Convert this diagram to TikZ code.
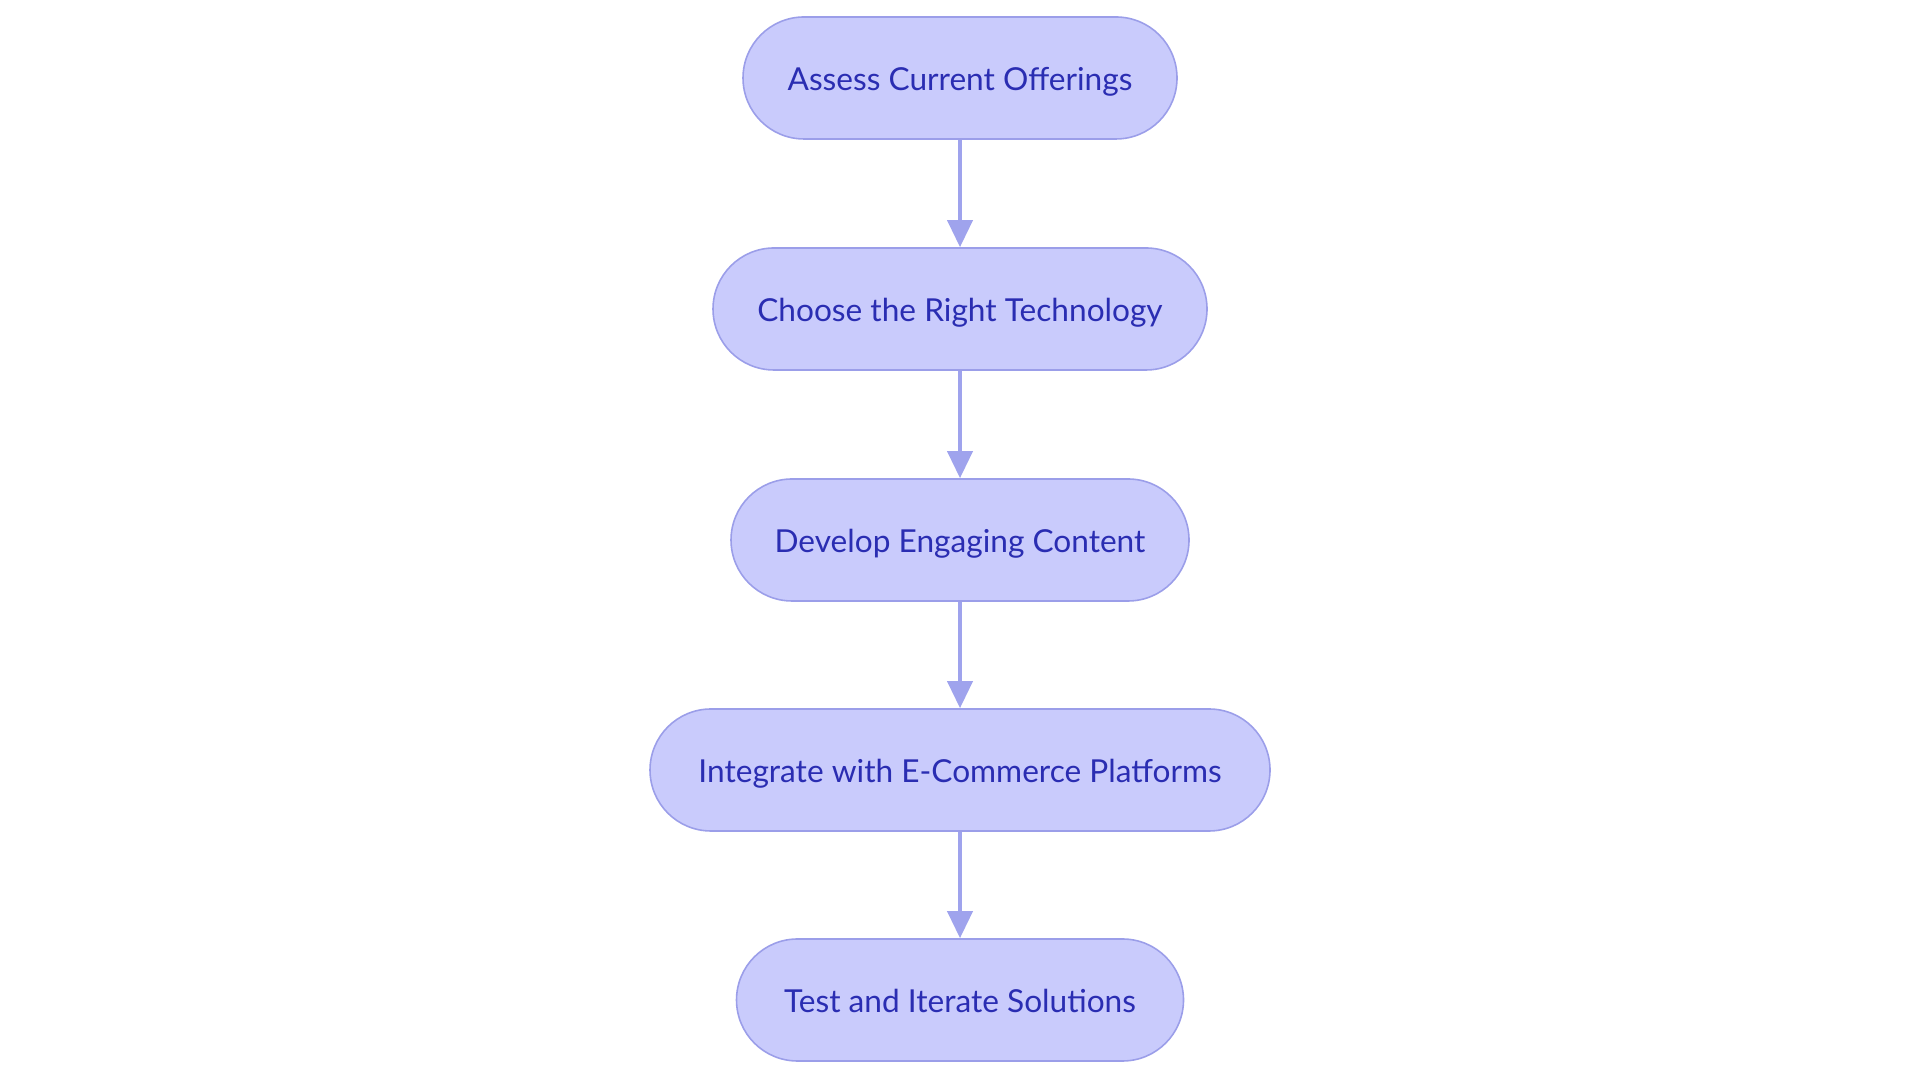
\documentclass[tikz,border=0pt]{standalone}
\usepackage{fontspec}
\setmainfont{Lato}
\usetikzlibrary{arrows.meta}
\definecolor{boxfill}{HTML}{C9CBFC}
\definecolor{boxdraw}{HTML}{9B9EE9}
\definecolor{boxtext}{HTML}{2A2DB2}
\definecolor{arrowcol}{HTML}{9FA3ED}
\tikzset{
  stepbox/.style={draw=boxdraw, fill=boxfill, line width=0.45pt, rounded corners=0.61cm,
    minimum height=1.22cm, inner sep=0pt, text=boxtext, font=\fontsize{9.0}{11}\selectfont,
    text height=0.72em, text depth=0pt},
  flow/.style={draw=arrowcol, line width=1.1pt, -{Triangle[length=0.27cm,width=0.25cm]}}
}
\begin{document}
\begin{tikzpicture}
\useasboundingbox (0,0) rectangle (19.2,10.8);
\node[stepbox, minimum width=4.34cm] (a) at (9.60,10.02) {Assess Current Offerings};
\node[stepbox, minimum width=4.94cm] (b) at (9.60,7.71) {Choose the Right Technology};
\node[stepbox, minimum width=4.58cm] (c) at (9.60,5.40) {Develop Engaging Content};
\node[stepbox, minimum width=6.20cm] (d) at (9.60,3.10) {Integrate with E-Commerce Platforms};
\node[stepbox, minimum width=4.47cm] (e) at (9.60,0.80) {Test and Iterate Solutions};
\draw[flow] (a) -- (b);
\draw[flow] (b) -- (c);
\draw[flow] (c) -- (d);
\draw[flow] (d) -- (e);
\end{tikzpicture}
\end{document}
